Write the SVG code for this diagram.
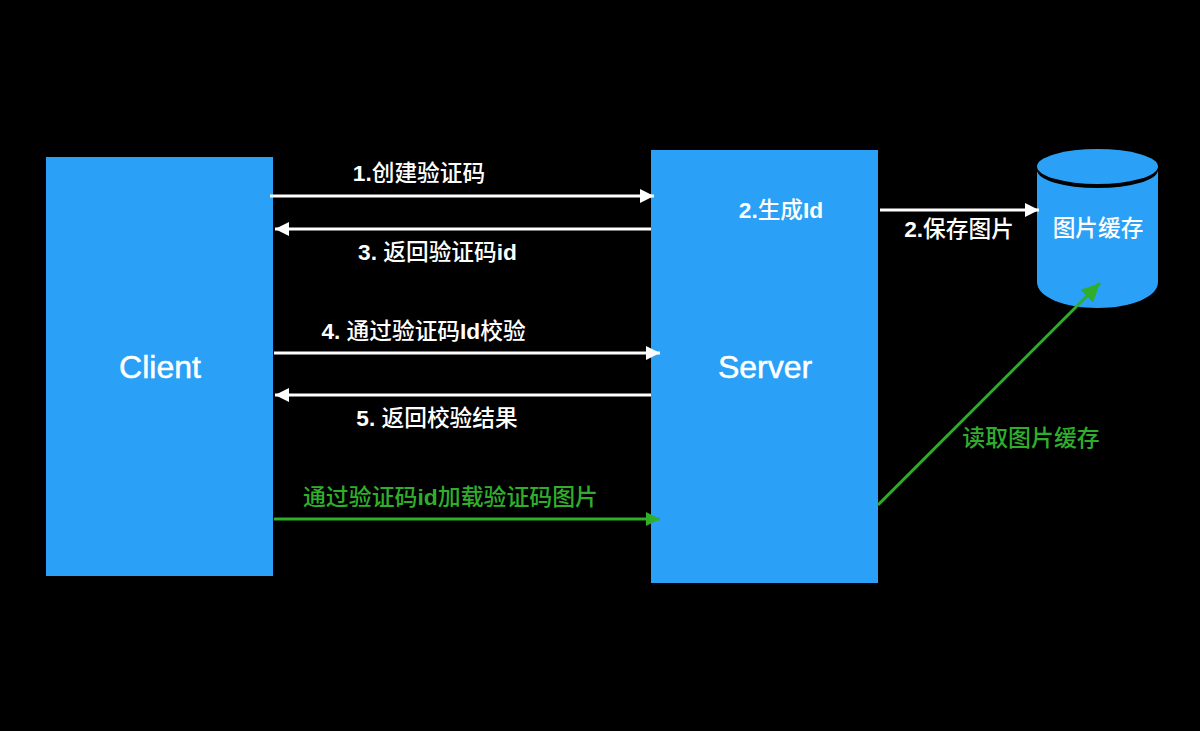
<svg xmlns="http://www.w3.org/2000/svg" width="1200" height="731" viewBox="0 0 1200 731">
<style>
text{font-family:"Liberation Sans","Noto Sans CJK SC",sans-serif;text-anchor:middle}
.l{font-size:22.7px;font-weight:500;fill:#fff}
.l tspan{font-weight:700}
.g{font-size:22.9px;font-weight:500;fill:#2fae2c}
.g tspan{font-weight:700}
.n{font-size:32px;fill:#fff;stroke:#fff;stroke-width:.5px}
.box{fill:#2aa1f7}
.w{stroke:#fff;stroke-width:3;fill:none}
.gr{stroke:#2fae2c;stroke-width:3;fill:none}
</style>
<defs>
<marker id="aw" markerUnits="userSpaceOnUse" markerWidth="15" markerHeight="15" refX="14" refY="7.500" orient="auto-start-reverse"><path d="M0 0.500L14 7.500L0 14.500Z" fill="#fff"/></marker>
<marker id="ag" markerUnits="userSpaceOnUse" markerWidth="15" markerHeight="15" refX="14" refY="7.500" orient="auto"><path d="M0 0.500L14 7.500L0 14.500Z" fill="#2fae2c"/></marker>
<marker id="ag2" markerUnits="userSpaceOnUse" markerWidth="20" markerHeight="20" refX="19" refY="10" orient="auto"><path d="M0 1L19 10L0 19Z" fill="#2fae2c"/></marker>
</defs>
<rect width="1200" height="731" fill="#000"/>
<g id="client"><rect class="box" x="46" y="157" width="227" height="419"/><text class="n" x="160" y="378">Client</text></g>
<g id="server"><rect class="box" x="651" y="150" width="227" height="433"/><text class="l" x="781" y="218"><tspan>2.</tspan>生成<tspan>Id</tspan></text><text class="n" x="765" y="378">Server</text></g>
<g id="cache">
<path class="box" d="M1037 170V282C1037 297 1064 308 1097.500 308S1158 297 1158 282V170Z"/>
<ellipse cx="1097.500" cy="170" rx="60.500" ry="18" fill="#000"/>
<ellipse class="box" cx="1097.500" cy="166.500" rx="60.500" ry="17.500"/>
<text x="1098" y="236" font-size="22.700" font-weight="500" fill="#fff">图片缓存</text>
</g>
<g id="connectors">
<path class="w" marker-end="url(#aw)" d="M270 196H654"/>
<path class="w" marker-start="url(#aw)" d="M275 229H651"/>
<path class="w" marker-end="url(#aw)" d="M274 353H660"/>
<path class="w" marker-start="url(#aw)" d="M275 395H651"/>
<path class="w" marker-end="url(#aw)" d="M880 210H1039"/>
<path class="gr" marker-end="url(#ag)" d="M274 519H660"/>
<path class="gr" marker-end="url(#ag2)" d="M878 505L1100 283"/>
</g>
<g id="labels">
<text class="l" x="419" y="181"><tspan>1.</tspan>创建验证码</text>
<text class="l" x="437.500" y="260"><tspan>3.</tspan> 返回验证码<tspan>id</tspan></text>
<text class="l" x="423.500" y="339"><tspan>4.</tspan> 通过验证码<tspan>Id</tspan>校验</text>
<text class="l" x="437" y="426"><tspan>5.</tspan> 返回校验结果</text>
<text class="l" x="959" y="237"><tspan>2.</tspan>保存图片</text>
<text class="g" x="450.500" y="505">通过验证码<tspan>id</tspan>加载验证码图片</text>
<text class="g" x="1031" y="446">读取图片缓存</text>
</g>
</svg>
